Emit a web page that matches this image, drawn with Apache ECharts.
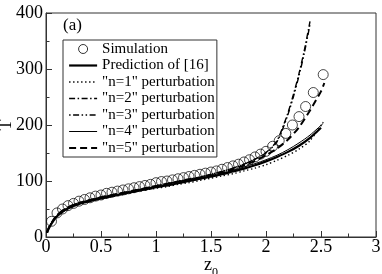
<!DOCTYPE html>
<html><head><meta charset="utf-8">
<script src="https://cdn.jsdelivr.net/npm/echarts@6/dist/echarts.min.js"></script>
<style>html,body{margin:0;padding:0;background:#fff}#c{width:382px;height:274px}</style>
</head><body><div id="c"></div>
<script>
var seriesNames = ['Simulation', 'Prediction of [16]', '"n=1" perturbation', '"n=2" perturbation', '"n=3" perturbation', '"n=4" perturbation', '"n=5" perturbation'];
var xTicks = [0, 0.5, 1, 1.5, 2, 2.5, 3];
var yTicks = [0, 100, 200, 300, 400];

var simZ = [0.05,0.1,0.15,0.2,0.25,0.3,0.35,0.4,0.45,0.5,0.55,0.6,0.65,0.7,0.75,0.8,0.85,0.9,0.95,1.0,1.05,1.1,1.15,1.2,1.25,1.3,1.35,1.4,1.45,1.5,1.55,1.6,1.65,1.7,1.75,1.8,1.85,1.9,1.95,2.0,2.06,2.12,2.18,2.24,2.3,2.36,2.43,2.52];
var simT = [28,43,50,56,60,64,67,70,73,75,78,80,82,84,86,88,90,92,94,97,99,100,102,104,106,108,110,112,114,116,118,121,124,127,130,134,138,143,148,153,162,172,185,200,215,233,258,290];

var predZ = [0.01,0.02,0.05,0.1,0.15,0.2,0.3,0.4,0.5,0.6,0.7,0.8,0.9,1.0,1.1,1.2,1.3,1.4,1.5,1.6,1.7,1.8,1.9,2.0,2.1,2.2,2.3,2.4,2.5];
var predT = [8,13,24,37,45,51,59,64,69,73,77,81,85,89,92,96,100,104,108,112,117,122,128,135,143,152,163,177,195];

var n1Z = [0.01,0.02,0.05,0.1,0.15,0.2,0.3,0.4,0.5,0.6,0.7,0.8,0.9,1.0,1.1,1.2,1.3,1.4,1.5,1.6,1.7,1.8,1.9,2.0,2.1,2.2,2.3,2.4,2.52];
var n1T = [8,13,24,37,45,51,59,64,68,72,76,80,84,87,90,94,97,101,105,109,113,118,123,129,137,146,157,172,205];

var n2Z = [0.01,0.02,0.05,0.1,0.15,0.2,0.3,0.4,0.5,0.6,0.7,0.8,0.9,1.0,1.1,1.2,1.3,1.4,1.5,1.6,1.7,1.8,1.9,2.0,2.05,2.1,2.15,2.2,2.25,2.3,2.35,2.4];
var n2T = [8,14,25,39,47,53,61,66,71,75,79,83,87,91,95,99,103,107,112,117,123,130,139,151,160,172,195,222,255,292,335,385];

var n3Z = [0.01,0.02,0.05,0.1,0.15,0.2,0.3,0.4,0.5,0.6,0.7,0.8,0.9,1.0,1.1,1.2,1.3,1.4,1.5,1.6,1.7,1.8,1.9,2.0,2.05,2.1,2.15,2.2,2.25,2.3,2.35,2.4];
var n3T = [8,14,25,39,47,53,61,66,71,75,79,83,87,91,95,99,103,107,112,117,123,130,139,150,159,170,192,219,251,288,330,380];

var n4Z = [0.01,0.02,0.05,0.1,0.15,0.2,0.3,0.4,0.5,0.6,0.7,0.8,0.9,1.0,1.1,1.2,1.3,1.4,1.5,1.6,1.7,1.8,1.9,2.0,2.1,2.2,2.3,2.4,2.52];
var n4T = [8,13,24,37,46,52,60,65,70,74,78,82,86,90,94,98,102,106,110,114,119,125,131,138,146,156,168,182,203];

var n5Z = [0.01,0.02,0.05,0.1,0.15,0.2,0.3,0.4,0.5,0.6,0.7,0.8,0.9,1.0,1.1,1.2,1.3,1.4,1.5,1.6,1.7,1.8,1.9,2.0,2.1,2.2,2.3,2.4,2.45,2.5,2.53];
var n5T = [8,14,25,39,47,53,61,66,71,75,79,83,87,91,95,99,103,106,110,115,121,128,136,146,158,174,196,226,243,260,275];

function pairs(z, t) { return z.map(function (v, i) { return [v, t[i]]; }); }

var FONT = 'Liberation Serif';
var chart = echarts.init(document.getElementById('c'), null, {renderer: 'canvas'});

var widths = [0, 2.2, 1.4, 1.4, 1.4, 1, 2];
var dashes = [null, 'solid', [1.4, 2.6], [6, 2.5, 1.5, 2.5], [1.5, 2.5, 6, 2.5, 1.5, 2.5], 'solid', [7, 4]];

function lineSeries(i, z, t) {
  return {
    name: seriesNames[i], type: 'line', data: pairs(z, t), symbol: 'none', smooth: 0.3,
    lineStyle: {color: '#000', width: widths[i], type: dashes[i]},
    itemStyle: {color: 'rgba(0,0,0,0)', borderWidth: 0}, z: 3
  };
}

var legendData = seriesNames.map(function (n, i) {
  return i === 0
    ? {name: n, itemStyle: {color: 'rgba(0,0,0,0)', borderColor: '#000', borderWidth: 1}}
    : {name: n, itemStyle: {opacity: 0}, lineStyle: {width: widths[i], type: dashes[i], color: '#000'}};
});

chart.setOption({
  animation: false,
  grid: {left: 46, right: 6, top: 13, bottom: 37, show: true, borderColor: '#333', borderWidth: 1,
    containLabel: false, outerBoundsMode: 'none'},
  xAxis: {
    type: 'value', min: xTicks[0], max: xTicks[xTicks.length - 1], interval: 0.5,
    name: '{z|z}{s|0}', nameLocation: 'middle', nameGap: 14, nameMoveOverlap: false,
    nameTextStyle: {rich: {z: {fontFamily: FONT, fontSize: 18, color: '#000'}, s: {fontFamily: FONT, fontSize: 12, color: '#000', padding: [16, 0, 0, 0]}}},
    axisLine: {lineStyle: {color: '#333', width: 1}},
    axisTick: {inside: true, length: 6, lineStyle: {color: '#333'}},
    minorTick: {show: true, splitNumber: 2, length: 3.5, lineStyle: {color: '#333'}},
    splitLine: {show: false},
    axisLabel: {fontFamily: FONT, fontSize: 18, color: '#000', margin: 1,
      formatter: function (v) { return String(v); }}
  },
  yAxis: {
    type: 'value', min: yTicks[0], max: yTicks[yTicks.length - 1], interval: 100,
    name: 'T', nameLocation: 'middle', nameGap: 31, nameRotate: 90, nameMoveOverlap: false,
    nameTextStyle: {fontFamily: FONT, fontSize: 18, color: '#000'},
    axisLine: {lineStyle: {color: '#333', width: 1}},
    axisTick: {inside: true, length: 6, lineStyle: {color: '#333'}},
    minorTick: {show: true, splitNumber: 2, length: 3.5, lineStyle: {color: '#333'}},
    splitLine: {show: false},
    axisLabel: {fontFamily: FONT, fontSize: 18, color: '#000', margin: 3}
  },
  legend: {
    orient: 'vertical', left: 63, top: 40,
    padding: [1, 2, 1, 5],
    itemWidth: 28, itemHeight: 9, itemGap: 0.5,
    borderColor: '#333', borderWidth: 1, backgroundColor: '#fff',
    textStyle: {fontFamily: FONT, fontSize: 15, color: '#000', lineHeight: 16},
    data: legendData
  },
  graphic: [{type: 'text', left: 63, top: 17, style: {text: '(a)', fontFamily: FONT, fontSize: 17, fill: '#000'}}],
  series: [
    {name: seriesNames[0], type: 'scatter', data: pairs(simZ, simT), symbol: 'circle', symbolSize: 10,
      itemStyle: {color: 'rgba(0,0,0,0)', borderColor: '#000', borderWidth: 0.9}, z: 2},
    lineSeries(1, predZ, predT),
    lineSeries(2, n1Z, n1T),
    lineSeries(3, n2Z, n2T),
    lineSeries(4, n3Z, n3T),
    lineSeries(5, n4Z, n4T),
    lineSeries(6, n5Z, n5T)
  ]
});
</script></body></html>
